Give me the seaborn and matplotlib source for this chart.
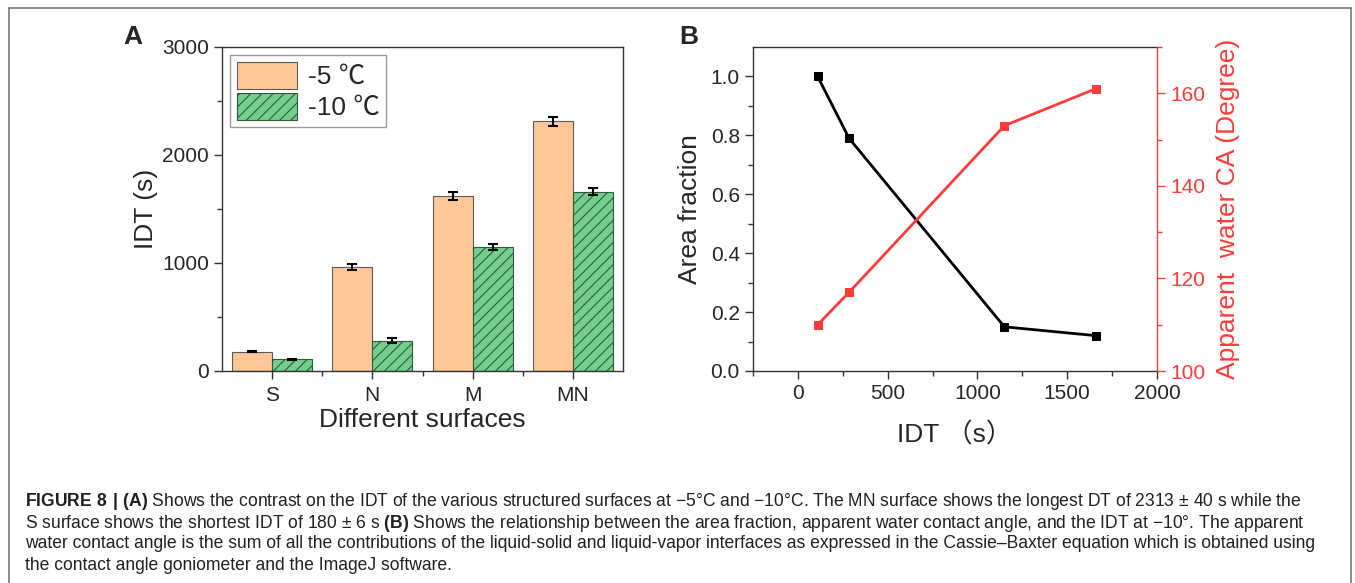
import numpy as np
import pandas as pd
import matplotlib
matplotlib.use('Agg')
import matplotlib.pyplot as plt
import seaborn as sns
from matplotlib.lines import Line2D
from matplotlib.ticker import MultipleLocator, FixedLocator, FormatStrFormatter

# дані панелі A: IDT для різних поверхонь
surfaces = ['S', 'N', 'M', 'MN']
temps = ['-5 ℃', '-10 ℃']
idt_m5 = [180, 960, 1620, 2313]
err_m5 = [6, 28, 35, 40]
idt_m10 = [110, 280, 1150, 1660]
err_m10 = [5, 22, 30, 30]

# дані панелі B
idt_x = [110, 285, 1150, 1660]
area_frac = [1.0, 0.79, 0.15, 0.12]
contact_angle = [110, 117, 153, 161]

caption_lines = [
    r'$\mathbf{FIGURE\ 8\ |\ (A)}$ Shows the contrast on the IDT of the various structured surfaces at −5°C and −10°C. The MN surface shows the longest DT of 2313 ± 40 s while the',
    r'S surface shows the shortest IDT of 180 ± 6 s $\mathbf{(B)}$ Shows the relationship between the area fraction, apparent water contact angle, and the IDT at −10°. The apparent',
    'water contact angle is the sum of all the contributions of the liquid-solid and liquid-vapor interfaces as expressed in the Cassie–Baxter equation which is obtained using',
    'the contact angle goniometer and the ImageJ software.',
]

sns.set_style('ticks')
plt.rcParams['font.family'] = ['Liberation Sans', 'Noto Sans CJK SC', 'DejaVu Sans']
plt.rcParams['mathtext.fontset'] = 'custom'
plt.rcParams['mathtext.rm'] = 'Liberation Sans'
plt.rcParams['mathtext.bf'] = 'Liberation Sans:bold'
plt.rcParams['hatch.linewidth'] = 0.8

orange = '#FFC797'
green = '#74CE8E'
red = '#FF3B3B'
spine_c = '#333333'

W, H = 1355, 583
fig = plt.figure(figsize=(W / 100, H / 100), dpi=100)
axA = fig.add_axes([222 / W, 1 - 371 / H, 401 / W, 324 / H])
axB = fig.add_axes([753 / W, 1 - 371 / H, 404 / W, 324 / H])

# ---- Панель A ----
df = pd.DataFrame({
    'surface': surfaces * 2,
    'temp': [temps[0]] * 4 + [temps[1]] * 4,
    'idt': idt_m5 + idt_m10,
})
sns.barplot(data=df, x='surface', y='idt', hue='temp', palette=[orange, green],
            errorbar=None, width=0.8, saturation=1, edgecolor='#5a5a5a',
            linewidth=0.8, legend=False, ax=axA)

for p in axA.containers[1].patches:
    p.set_hatch('///')
    p.set_edgecolor('#2e5a3a')

for cont, errs in zip(axA.containers, [err_m5, err_m10]):
    xs = [p.get_x() + p.get_width() / 2 for p in cont.patches]
    ys = [p.get_height() for p in cont.patches]
    axA.errorbar(xs, ys, yerr=errs, fmt='none', ecolor='black',
                 elinewidth=1.5, capsize=3.5, capthick=1.5, zorder=5)

axA.set_xlim(-0.5, 3.5)
axA.set_ylim(0, 3000)
axA.yaxis.set_major_locator(MultipleLocator(1000))
axA.yaxis.set_minor_locator(MultipleLocator(500))
axA.xaxis.set_minor_locator(FixedLocator([0.5, 1.5, 2.5]))
axA.set_xlabel('Different surfaces', fontsize=19, labelpad=2)
axA.set_ylabel('IDT (s)', fontsize=19, labelpad=3)
axA.tick_params(axis='both', which='major', direction='out', length=6, width=1,
                labelsize=15, color=spine_c)
axA.tick_params(axis='x', which='major', labelsize=15, pad=5)
axA.tick_params(axis='both', which='minor', direction='out', length=3.5, width=1, color=spine_c)
for s in axA.spines.values():
    s.set_color(spine_c)
    s.set_linewidth(1)

leg = axA.legend(handles=[axA.containers[0].patches[0], axA.containers[1].patches[0]],
                 labels=temps, loc='upper left', fontsize=19, handlelength=2.3,
                 handleheight=1.2, labelspacing=0.15, borderaxespad=0.3,
                 borderpad=0.25, handletextpad=0.4, fancybox=False,
                 edgecolor='#999999', framealpha=1)
leg.get_frame().set_linewidth(1)

# ---- Панель B ----
sns.lineplot(x=idt_x, y=area_frac, color='black', marker='s', markersize=6,
             markeredgecolor='black', linewidth=2, ax=axB)
axR = axB.twinx()
sns.lineplot(x=idt_x, y=contact_angle, color=red, marker='s', markersize=6,
             markeredgecolor=red, linewidth=2, ax=axR)

axB.set_xlim(-250, 2000)
axB.set_ylim(0, 1.1)
axB.xaxis.set_major_locator(MultipleLocator(500))
axB.xaxis.set_minor_locator(MultipleLocator(250))
axB.yaxis.set_major_locator(FixedLocator([0, 0.2, 0.4, 0.6, 0.8, 1.0]))
axB.yaxis.set_minor_locator(FixedLocator([0.1, 0.3, 0.5, 0.7, 0.9]))
axB.yaxis.set_major_formatter(FormatStrFormatter('%.1f'))
axB.set_xlabel('IDT （s）', fontsize=19, labelpad=14)
axB.set_ylabel('Area fraction', fontsize=19, labelpad=6)
axB.tick_params(axis='both', which='major', direction='out', length=6, width=1,
                labelsize=15, color=spine_c)
axB.tick_params(axis='both', which='minor', direction='out', length=3.5, width=1, color=spine_c)
for s in axB.spines.values():
    s.set_color(spine_c)
    s.set_linewidth(1)
axB.spines['right'].set_visible(False)

axR.set_ylim(100, 170)
axR.yaxis.set_major_locator(MultipleLocator(20))
axR.yaxis.set_minor_locator(MultipleLocator(10))
axR.set_ylabel('Apparent  water CA (Degree)', fontsize=19, color=red, labelpad=8)
axR.tick_params(axis='y', which='major', direction='out', length=6, width=1,
                labelsize=15, colors=red)
axR.tick_params(axis='y', which='minor', direction='out', length=3.5, width=1, colors=red)
axR.spines['right'].set_color(red)
axR.spines['right'].set_linewidth(1)
for k in ['left', 'top', 'bottom']:
    axR.spines[k].set_visible(False)

# підписи панелей
fig.text(133 / W, 1 - 37 / H, 'A', fontsize=19, fontweight='bold', ha='center', va='center')
fig.text(689 / W, 1 - 37 / H, 'B', fontsize=19, fontweight='bold', ha='center', va='center')

# рамка
for xs, ys in [([9, 9], [583, 8]), ([9, 1351], [8, 8]), ([1351, 1351], [8, 583])]:
    fig.add_artist(Line2D([x / W for x in xs], [1 - y / H for y in ys],
                          color='#7a7a7a', linewidth=1.2))

# підпис рисунка
cap_y = [498, 520, 542, 564]
cap_texts = [fig.text(25 / W, 1 - y / H, s, fontsize=10, ha='left',
                      va='center_baseline', color='#231F20')
             for s, y in zip(caption_lines, cap_y)]
r = fig.canvas.get_renderer()
k = 1297 / cap_texts[2].get_window_extent(r).width
for t in cap_texts:
    t.set_fontsize(10 * k)

fig.savefig('out.png', dpi=100)
